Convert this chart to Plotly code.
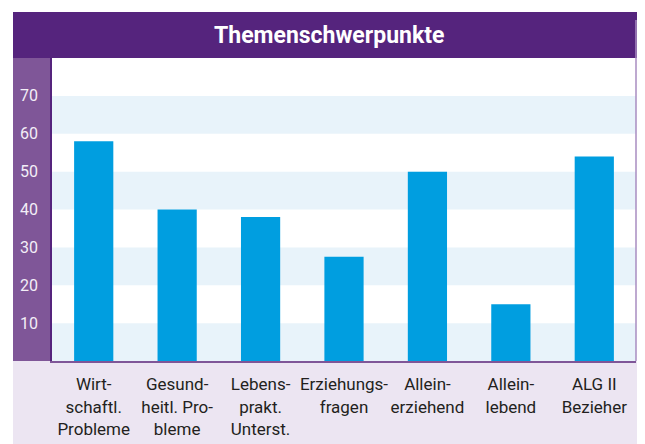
import plotly.graph_objects as go

categories = ["Wirt-<br>schaftl.<br>Probleme", "Gesund-<br>heitl. Pro-<br>bleme",
              "Lebens-<br>prakt.<br>Unterst.", "Erziehungs-<br>fragen",
              "Allein-<br>erziehend", "Allein-<br>lebend", "ALG II<br>Bezieher"]
values = [58, 40, 38, 27.5, 50, 15, 54]
y_ticks = [10, 20, 30, 40, 50, 60, 70]
bands = [(0, 10), (20, 30), (40, 50), (60, 70)]

# page has an 8px body margin, so the figure is sized to fit inside it
W, H = 637, 436
L, R, T, B = 44, 9, 50, 83
pw, ph = W - L - R, H - T - B
X0 = -(L - 5) / pw           # left edge of the purple frame
X1 = (W - 8 - L) / pw        # right edge of the frame

FONT = "Roboto, sans-serif"
DARK = "#55247d"
MID = "#7f5698"
LIGHT = "#ece5f2"

fig = go.Figure(go.Bar(x=categories, y=values, marker_color="#009ee0",
                       marker_line_width=0, hoverinfo="skip"))

shapes = []
# light blue bands
for lo, hi in bands:
    shapes.append(dict(type="rect", xref="paper", yref="y", x0=0, x1=1, y0=lo, y1=hi,
                       fillcolor="#e8f3fa", line_width=0, layer="below"))
# title bar
shapes.append(dict(type="rect", xref="paper", yref="paper", x0=X0, x1=X1,
                   y0=1, y1=1 + 46 / ph, fillcolor=DARK, line_width=0, layer="below"))
# left column
shapes.append(dict(type="rect", xref="paper", yref="paper", x0=X0, x1=0,
                   y0=0, y1=1, fillcolor=MID, line_width=0, layer="below"))
# bottom label area
shapes.append(dict(type="rect", xref="paper", yref="paper", x0=X0, x1=X1,
                   y0=-B / ph, y1=0, fillcolor=LIGHT, line_width=0, layer="below"))
# right border
shapes.append(dict(type="line", xref="paper", yref="paper", x0=1, x1=1,
                   y0=0, y1=1 + 38 / ph, line=dict(color="#a98cc0", width=1.5)))

fig.update_layout(
    width=W, height=H,
    margin=dict(l=L, r=R, t=T, b=B, autoexpand=False),
    paper_bgcolor="white", plot_bgcolor="white",
    showlegend=False, bargap=0.53,
    shapes=shapes,
    annotations=[dict(text="<b>Themenschwerpunkte</b>", xref="paper", yref="paper",
                      x=0.475, y=1 + 23 / ph, showarrow=False, yanchor="middle",
                      font=dict(family=FONT, size=23, color="white"))],
    font=dict(family=FONT),
)
fig.update_xaxes(showgrid=False, showline=True, linecolor=MID, linewidth=2,
                 tickfont=dict(size=17, color="#231f20"), ticks="", ticklabelstandoff=7,
                 tickangle=0, automargin=False, fixedrange=True)
fig.update_yaxes(range=[0, 80], tickvals=y_ticks, showgrid=False, zeroline=False,
                 showline=True, linecolor=DARK, linewidth=1.5,
                 tickfont=dict(size=16, color="#f3eef7"), ticks="", ticklabelstandoff=9,
                 automargin=False, fixedrange=True)

fig.write_html("out.html")
